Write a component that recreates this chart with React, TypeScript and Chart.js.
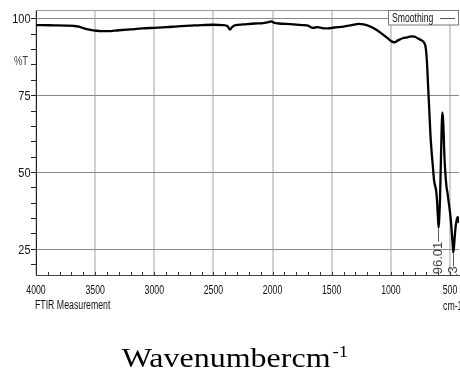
import { useEffect, useRef } from 'react';
import { Chart, registerables } from 'chart.js';

Chart.register(...registerables);

// ---- data ----
const wavenumbers = [
  4000, 3950, 3850, 3750, 3680, 3640, 3600, 3550, 3500, 3450, 3400, 3300, 3200, 3100, 3000,
  2900, 2800, 2700, 2600, 2500, 2420, 2380, 2360, 2345, 2320, 2250, 2150, 2080, 2040, 2010,
  1990, 1950, 1850, 1750, 1700, 1660, 1620, 1580, 1530, 1480, 1400, 1330, 1270, 1230, 1180,
  1130, 1080, 1030, 990, 970, 940, 900, 860, 830, 800, 770, 740, 720, 705, 695, 685, 675, 665,
  655, 645, 635, 625, 617, 610, 603, 596, 590, 584, 578, 572, 566, 560, 554, 548, 540, 530,
  520, 510, 500, 492, 485, 478, 472, 466, 460, 452, 445, 436, 430, 424,
];
const transmittance = [
  98.0, 98.0, 97.9, 97.8, 97.7, 97.5, 97.0, 96.5, 96.2, 96.0, 96.0, 96.3, 96.6, 96.9, 97.1,
  97.3, 97.6, 97.8, 98.0, 98.1, 98.0, 97.6, 96.5, 97.2, 97.9, 98.2, 98.5, 98.6, 98.9, 99.2,
  98.8, 98.5, 98.3, 98.0, 97.8, 97.1, 97.3, 97.0, 96.9, 97.2, 97.5, 98.0, 98.4, 98.2, 97.6,
  96.6, 95.3, 93.8, 92.6, 92.4, 93.0, 93.7, 94.0, 94.3, 94.2, 93.6, 93.0, 92.3, 90.5, 86, 78, 70, 62,
  56.5, 52, 47.5, 45.5, 44, 41, 36, 32, 36, 42, 52, 62, 69.5, 68, 63, 56, 50, 45.5,
  43, 40, 37, 34, 30.5, 27, 24, 26, 29, 32.5, 34.2, 35.4, 35, 33.5,
];
const xMajorTicks = [4000, 3500, 3000, 2500, 2000, 1500, 1000, 500];
const yMajorTicks = [100, 75, 50, 25];
const peakPositions = [596.01, 472.13];
const peakMinima = [32, 24];
const peakTexts = ['596.01', '472.13'];
const legendLabel = 'Smoothing';
const yAxisLabel = '%T';
const xAxisNote = 'FTIR Measurement';
const xUnitNote = 'cm-1';
const xTitle = 'Wavenumbercm';
const xTitleSup = '-1';

const SANS = '"Liberation Sans", Arial, sans-serif';
const SERIF = '"Liberation Serif", "Times New Roman", serif';

function scaledText(ctx: CanvasRenderingContext2D, text: string, x: number, y: number, sx: number, align: CanvasTextAlign) {
  ctx.save();
  ctx.translate(x, y);
  ctx.scale(sx, 1);
  ctx.textAlign = align;
  ctx.fillText(text, 0, 0);
  ctx.restore();
}

const decor = {
  id: 'decor',
  beforeDatasetsDraw(chart: any) {
    const { ctx, chartArea: a, scales } = chart;
    const xs = scales.x;
    ctx.save();
    ctx.strokeStyle = '#9a9a9a';
    ctx.lineWidth = 1;
    ctx.beginPath();
    ctx.moveTo(a.left, a.top + 0.5);
    ctx.lineTo(a.right, a.top + 0.5);
    ctx.stroke();
    ctx.strokeStyle = '#333';
    ctx.beginPath();
    xs.ticks.forEach((t: any) => {
      const px = Math.round(xs.getPixelForValue(t.value)) + 0.5;
      ctx.moveTo(px, a.bottom);
      ctx.lineTo(px, a.bottom - 3);
    });
    ctx.stroke();
    ctx.restore();
  },
  afterDraw(chart: any) {
    const { ctx, chartArea: a, scales } = chart;
    const xs = scales.x;
    const ys = scales.y;
    ctx.save();
    ctx.fillStyle = '#111';
    ctx.textBaseline = 'alphabetic';
    ctx.font = `12.5px ${SANS}`;
    yMajorTicks.forEach((v) => {
      scaledText(ctx, String(v), 30.5, ys.getPixelForValue(v) + 4.5, 0.88, 'right');
    });
    xMajorTicks.forEach((v) => {
      scaledText(ctx, String(v), xs.getPixelForValue(v), a.bottom + 19, 0.7, 'center');
    });
    scaledText(ctx, xAxisNote, 35, a.bottom + 34, 0.7, 'left');
    scaledText(ctx, xUnitNote, 443, a.bottom + 35, 0.7, 'left');
    ctx.fillStyle = '#3a3a4a';
    scaledText(ctx, yAxisLabel, 14, 65, 0.75, 'left');

    // legend box
    ctx.fillStyle = '#fff';
    ctx.fillRect(388.5, a.top + 0.5, 70, 14.5);
    ctx.strokeStyle = '#777';
    ctx.lineWidth = 1;
    ctx.strokeRect(388.5, a.top + 0.5, 70, 14.5);
    ctx.fillStyle = '#111';
    scaledText(ctx, legendLabel, 392, a.top + 12, 0.69, 'left');
    ctx.strokeStyle = '#555';
    ctx.beginPath();
    ctx.moveTo(440, a.top + 8.5);
    ctx.lineTo(455, a.top + 8.5);
    ctx.stroke();

    // peak labels
    ctx.save();
    ctx.beginPath();
    ctx.rect(a.left, a.top, a.right - a.left, a.bottom - a.top);
    ctx.clip();
    ctx.fillStyle = '#444';
    ctx.font = `13px ${SANS}`;
    ctx.textBaseline = 'middle';
    peakPositions.forEach((p, i) => {
      ctx.save();
      ctx.translate(xs.getPixelForValue(p), ys.getPixelForValue(peakMinima[i]) + 1);
      ctx.rotate(-Math.PI / 2);
      ctx.textAlign = 'right';
      ctx.fillText(peakTexts[i] + '\u2014', 0, 0);
      ctx.restore();
    });
    ctx.restore();

    // big axis title
    ctx.fillStyle = '#000';
    ctx.textBaseline = 'alphabetic';
    ctx.font = `27px ${SERIF}`;
    const w = ctx.measureText(xTitle).width * 1.185;
    scaledText(ctx, xTitle, 121.7, 367, 1.185, 'left');
    ctx.font = `17px ${SERIF}`;
    scaledText(ctx, xTitleSup, 121.7 + w + 2, 357, 1.1, 'left');
    ctx.restore();
  },
};

export default function App() {
  const ref = useRef<HTMLCanvasElement>(null);
  useEffect(() => {
    const chart = new Chart(ref.current as HTMLCanvasElement, {
      type: 'line',
      data: {
        datasets: [
          {
            label: legendLabel,
            data: wavenumbers.map((x, i) => ({ x, y: transmittance[i] })),
            borderColor: '#000',
            borderWidth: 2.3,
            pointRadius: 0,
            cubicInterpolationMode: 'monotone',
            fill: false,
          },
        ],
      },
      options: {
        responsive: false,
        animation: false,
        devicePixelRatio: 1,
        layout: { padding: { top: 10, right: 1, left: 0, bottom: 0 } },
        plugins: { legend: { display: false }, tooltip: { enabled: false } },
        scales: {
          x: {
            type: 'linear',
            reverse: true,
            min: 424,
            max: 4000,
            afterFit: (s: any) => {
              s.height = 100;
            },
            ticks: { display: false, stepSize: 100, includeBounds: false },
            grid: {
              color: (c: any) =>
                c.tick && Math.abs(Math.round(c.tick.value) % 500) === 0 ? '#d2d2d2' : 'rgba(0,0,0,0)',
              lineWidth: 2,
              drawTicks: false,
            },
            border: { color: '#444', width: 1 },
          },
          y: {
            min: 16.6,
            max: 102.9,
            afterFit: (s: any) => {
              s.width = 36;
            },
            ticks: { display: false, stepSize: 5, includeBounds: false },
            grid: {
              color: (c: any) =>
                c.tick && Math.abs(Math.round(c.tick.value) % 25) === 0 ? '#8a8a8a' : 'rgba(0,0,0,0)',
              lineWidth: 1,
              tickLength: 5,
              tickColor: '#222',
            },
            border: { color: '#222', width: 1 },
          },
        },
      } as any,
      plugins: [decor],
    });
    return () => chart.destroy();
  }, []);
  return (
    <div style={{ position: 'fixed', left: 0, top: 0, width: 460, height: 375, background: '#fff' }}>
      <canvas ref={ref} width={460} height={375} style={{ display: 'block', width: 460, height: 375 }} />
    </div>
  );
}
